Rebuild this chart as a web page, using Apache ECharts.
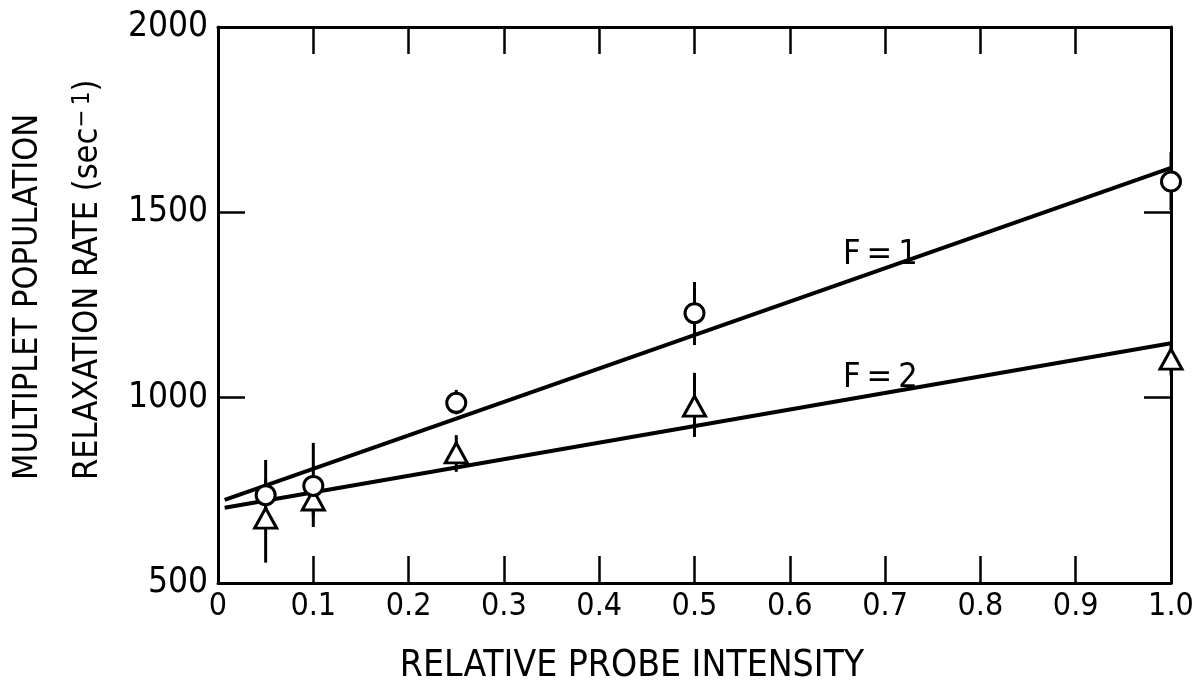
<!DOCTYPE html>
<html><head><meta charset="utf-8">
<script src="https://cdn.jsdelivr.net/npm/echarts@6/dist/echarts.min.js"></script>
<style>html,body{margin:0;padding:0;background:#fff}#c{width:1193px;height:696px}</style>
</head><body><div id="c"></div>
<script>
// ---- data ----
const xPoints   = [0.05, 0.1, 0.25, 0.5, 1.0];
const f1Values  = [737, 762, 986, 1228, 1583];
const f1Low     = [650, 680, 955, 1142, 1506];
const f1High    = [832, 878, 1021, 1312, 1663];
const f2Values  = [675, 724, 851, 977, 1104];
const f2Low     = [555, 651, 800, 894, 1060];
const f2High    = [780, 770, 899, 1067, 1150];
const fitX      = [0.007, 1.0];
const f1Fit     = [724, 1620];
const f2Fit     = [703, 1147];
const curveNames = ['F\u2009=\u20091', 'F\u2009=\u20092'];
const curveLabelAt = [[0.695, 1385], [0.695, 1053]];
const xTitle = 'RELATIVE PROBE INTENSITY';
const yTitle1 = 'MULTIPLET POPULATION';
const yTitle2 = 'RELAXATION RATE (sec';

const FONT = '"DejaVu Sans Condensed", "Liberation Sans Narrow", "DejaVu Sans", sans-serif';
const INK = '#000';

const chart = echarts.init(document.getElementById('c'), null, {renderer: 'canvas'});

function pairs(xs, ys) { return xs.map((x, i) => [x, ys[i]]); }
function errData(lo, hi) { return xPoints.map((x, i) => [x, lo[i], hi[i]]); }

function errRender(params, api) {
  const x = api.value(0);
  const p1 = api.coord([x, api.value(1)]);
  const p2 = api.coord([x, api.value(2)]);
  return {type: 'line', shape: {x1: p1[0], y1: p1[1], x2: p2[0], y2: p2[1]},
          style: {stroke: INK, lineWidth: 3}};
}

function axisBase(extra) {
  return Object.assign({
    axisLine: {show: true, onZero: false, lineStyle: {color: INK, width: 3}},
    splitLine: {show: false},
    minorTick: {show: false},
    axisTick: {show: true, inside: true, length: 27, lineStyle: {color: INK, width: 2.5}},
  }, extra);
}

const option = {
  backgroundColor: '#fff',
  animation: false,
  grid: {left: 218, right: 22, top: 27, bottom: 113, containLabel: false, outerBoundsMode: 'none'},
  xAxis: [
    axisBase({
      type: 'value', min: 0, max: 1, interval: 0.1, position: 'bottom',
      axisLabel: {show: true, margin: 8, color: INK, fontSize: 32, fontFamily: FONT,
        formatter: v => (Math.abs(v) < 1e-9 ? '0' : v.toFixed(1))}
    }),
    axisBase({
      type: 'value', min: 0, max: 1, interval: 0.1, position: 'top',
      axisLabel: {show: false}
    })
  ],
  yAxis: [
    axisBase({
      type: 'value', min: 500, max: 2000, interval: 500, position: 'left',
      axisLabel: {show: true, margin: 10, color: INK, fontSize: 35, fontFamily: FONT,
        formatter: v => String(v)}
    }),
    axisBase({
      type: 'value', min: 500, max: 2000, interval: 500, position: 'right',
      axisLabel: {show: false}
    })
  ],
  graphic: [
    {type: 'text', x: 632, y: 666, z: 100,
      style: {text: xTitle, fill: INK, font: '37px ' + FONT, align: 'center', verticalAlign: 'middle'}},
    {type: 'text', x: 28, y: 480, rotation: Math.PI / 2, z: 100,
      style: {text: yTitle1, fill: INK, font: '34px ' + FONT, align: 'left', verticalAlign: 'middle'}},
    {type: 'text', x: 88, y: 480, rotation: Math.PI / 2, z: 100,
      style: {text: '{m|' + yTitle2 + '}{s|\u2212\u20091}{m|)}', align: 'left', verticalAlign: 'middle',
        rich: {
          m: {fill: INK, fontSize: 34, fontFamily: FONT},
          s: {fill: INK, fontSize: 24, fontFamily: FONT, verticalAlign: 'top'}
        }}}
  ],
  series: [
    {type: 'line', data: pairs(fitX, f1Fit), symbol: 'none', z: 2,
      lineStyle: {color: INK, width: 4, opacity: 1}},
    {type: 'line', data: pairs(fitX, f2Fit), symbol: 'none', z: 2,
      lineStyle: {color: INK, width: 4, opacity: 1}},
    {type: 'custom', data: errData(f1Low, f1High), renderItem: errRender, z: 3},
    {type: 'custom', data: errData(f2Low, f2High), renderItem: errRender, z: 3},
    {type: 'scatter', data: pairs(xPoints, f2Values), symbol: 'triangle', symbolSize: [22, 20], z: 5,
      itemStyle: {color: '#fff', borderColor: INK, borderWidth: 3, opacity: 1}},
    {type: 'scatter', data: pairs(xPoints, f1Values), symbol: 'circle', symbolSize: 19, z: 6,
      itemStyle: {color: '#fff', borderColor: INK, borderWidth: 3, opacity: 1}},
    {type: 'scatter', data: curveLabelAt.map((p, i) => ({value: p, name: curveNames[i]})),
      symbolSize: 0, z: 7, silent: true, itemStyle: {opacity: 1},
      label: {show: true, position: 'inside', formatter: p => p.name, color: INK, opacity: 1,
        fontSize: 34, fontFamily: FONT}}
  ]
};
chart.setOption(option);
</script>
</body></html>
